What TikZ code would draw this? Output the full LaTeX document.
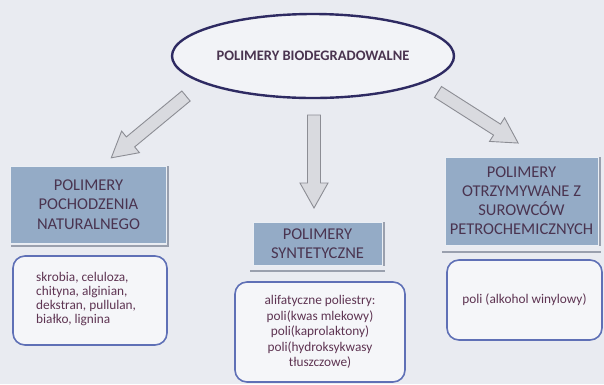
\documentclass[tikz,border=0pt]{standalone}
\usepackage{fontspec}
\setmainfont{Carlito}
\usetikzlibrary{shapes.geometric}
\definecolor{bgc}{HTML}{E9EBF1}
\definecolor{boxblue}{HTML}{94ABC6}
\definecolor{headtxt}{HTML}{4A3450}
\definecolor{listtxt}{HTML}{5E3452}
\definecolor{ellborder}{HTML}{2E2A62}
\definecolor{listborder}{HTML}{5F70B6}
\definecolor{arrfill}{HTML}{D9DADF}
\definecolor{arrdraw}{HTML}{8C8D94}
\definecolor{shadowc}{HTML}{9AA0AE}
\tikzset{
  headbox/.style={rectangle, fill=boxblue, draw=white!80!boxblue, line width=0.8pt,
    text=headtxt, align=center, inner sep=0pt,
    font=\fontsize{16.5}{19.5}\selectfont},
  listbox/.style={rectangle, rounded corners=12pt, draw=listborder, line width=1.6pt,
    fill=white!55!bgc, text=listtxt, inner sep=0pt,
    font=\fontsize{13.3}{14.5}\selectfont},
  bigarrow/.style={fill=arrfill, draw=arrdraw, line width=0.9pt, line join=miter},
  shadowline/.style={draw=shadowc, line width=1.2pt}
}
\newcommand{\blockarrow}[3]{% tail coordinate, angle, length
  \begin{scope}[shift={#1}, rotate=#2]
    \path[bigarrow] (0,-6.5) -- (#3-25,-6.5) -- (#3-25,-14) -- (#3,0) -- (#3-25,14) -- (#3-25,6.5) -- (0,6.5) -- cycle;
  \end{scope}}
\begin{document}
\begin{tikzpicture}[x=1pt,y=-1pt]
\fill[bgc] (0,0) rectangle (604,384);
\useasboundingbox (0,0) rectangle (604,384);

% top ellipse
\node[ellipse, draw=ellborder, line width=2.4pt, fill=white!40!bgc, minimum width=268pt, minimum height=84pt,
  text=headtxt, font=\fontsize{14.5}{16}\selectfont\bfseries] (top) at (313,56) {POLIMERY BIODEGRADOWALNE};

% arrows
\coordinate (aL) at (186,96);
\coordinate (aM) at (314,115);
\coordinate (aR) at (438,92);
\blockarrow{(aL)}{219.6}{97}
\blockarrow{(aM)}{270}{93}
\blockarrow{(aR)}{-32.5}{95}

% headings
\draw[shadowline] (11,246) -- (168,246) -- (168,166);
\node[headbox, minimum width=156pt, minimum height=77pt] (nat) at (88.5,204.5) {POLIMERY\\POCHODZENIA\\NATURALNEGO};

\draw[shadowline] (250,271) -- (385,271);
\draw[shadowline] (384,222) -- (384,266);
\node[headbox, minimum width=129pt, minimum height=43pt] (syn) at (317.5,243.5) {POLIMERY\\SYNTETYCZNE};

\draw[shadowline] (442,252) -- (601,252);
\draw[shadowline] (600,157) -- (600,246);
\node[headbox, minimum width=153pt, minimum height=88pt, font=\fontsize{16.5}{19}\selectfont] (pet) at (521.5,201) {POLIMERY\\OTRZYMYWANE Z\\SUROWCÓW\\PETROCHEMICZNYCH};

% lists
\node[listbox, minimum width=154pt, minimum height=89pt] (lnat) at (90,300.5) {};
\node[text=listtxt, font=\fontsize{13.3}{14.2}\selectfont, align=left, anchor=west, inner sep=0pt] (tnat) at (36,299)
  {skrobia, celuloza,\\chityna, alginian,\\dekstran, pullulan,\\białko, lignina};

\node[listbox, minimum width=170pt, minimum height=100pt, align=center,
  font=\fontsize{13.3}{15.5}\selectfont] (lsyn) at (320,332)
  {alifatyczne poliestry:\\poli(kwas mlekowy)\\poli(kaprolaktony)\\poli(hydroksykwasy\\tłuszczowe)};

\node[listbox, minimum width=155pt, minimum height=80pt] (lpet) at (524.5,300) {poli (alkohol winylowy)};
\end{tikzpicture}
\end{document}
